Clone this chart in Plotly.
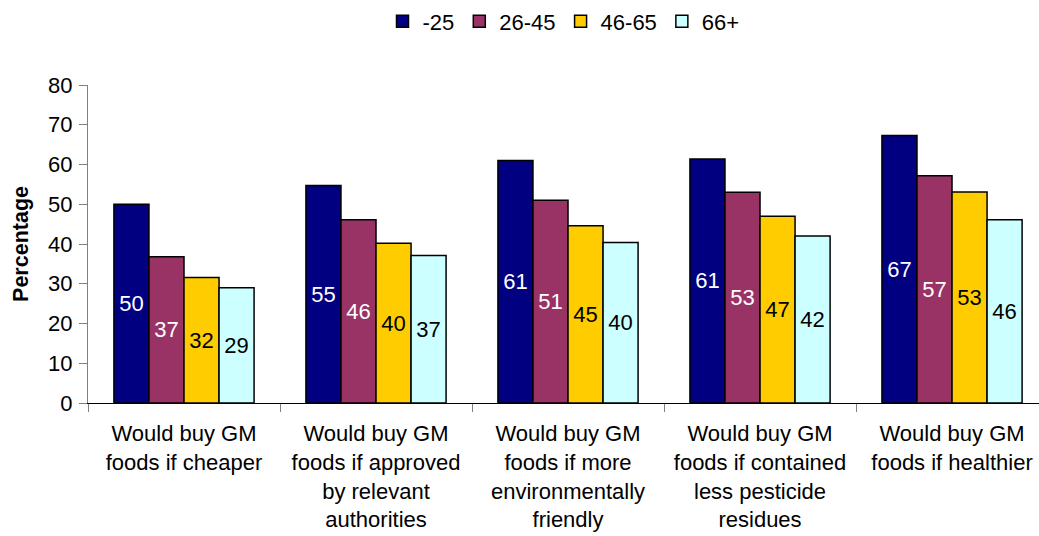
import plotly.graph_objects as go

# categories (x axis) and age groups (series)
categories = [
    'Would buy GM<br>foods if cheaper',
    'Would buy GM<br>foods if approved<br>by relevant<br>authorities',
    'Would buy GM<br>foods if more<br>environmentally<br>friendly',
    'Would buy GM<br>foods if contained<br>less pesticide<br>residues',
    'Would buy GM<br>foods if healthier',
]
age_groups = ['-25', '26-45', '46-65', '66+']

# percentages
under_25 = [50, 54.7, 61, 61.4, 67.3]
age_26_45 = [36.8, 46.1, 51, 53, 57.2]
age_46_65 = [31.6, 40.2, 44.6, 47, 53.1]
age_66_plus = [29, 37.1, 40.4, 42, 46.1]

series_values = [under_25, age_26_45, age_46_65, age_66_plus]
colors = ['#000080', '#993366', '#FFCC00', '#CCFFFF']
text_colors = ['white', 'white', 'black', 'black']

FONT = 'Arial, Liberation Sans, sans-serif'
SIZE = 22

fig = go.Figure()

for name, values, color, tcolor in zip(age_groups, series_values, colors, text_colors):
    fig.add_trace(go.Bar(
        name=name,
        x=categories,
        y=values,
        marker=dict(color=color, line=dict(color='black', width=1.5)),
        texttemplate='%{y:.0f}',
        textposition='inside',
        insidetextanchor='middle',
        textangle=0,
        textfont=dict(color=tcolor, size=SIZE, family=FONT),
        constraintext='none',
    ))

fig.update_layout(
    width=1039,
    height=536,
    margin=dict(l=88, r=0, t=83, b=133),
    barmode='group',
    bargap=0.27,
    bargroupgap=0,
    plot_bgcolor='white',
    paper_bgcolor='white',
    font=dict(family=FONT, size=SIZE, color='black'),
    legend=dict(
        orientation='h',
        x=0.5, xanchor='center',
        y=1.2, yanchor='middle',
        font=dict(size=SIZE),
    ),
)

fig.update_xaxes(
    range=[-0.5, 4.453],
    tickson='boundaries',
    ticks='outside',
    ticklen=8,
    tickcolor='#808080',
    showline=True,
    linecolor='black',
    linewidth=1,
    showgrid=False,
    tickangle=0,
    ticklabelstandoff=11,
    automargin=False,
)

fig.update_yaxes(
    range=[0, 80],
    dtick=10,
    ticks='outside',
    ticklen=8,
    tickcolor='#808080',
    showline=True,
    linecolor='#808080',
    linewidth=1,
    showgrid=False,
    zeroline=False,
    ticklabelstandoff=2,
    automargin=False,
    title=dict(text='<b>Percentage</b>', standoff=13,
               font=dict(size=21.5, family=FONT)),
)

# drop the default page margin so the figure sits at the window corner
fig.write_html('out.html', config={'displayModeBar': False},
               post_script="document.body.style.margin='0px';")
